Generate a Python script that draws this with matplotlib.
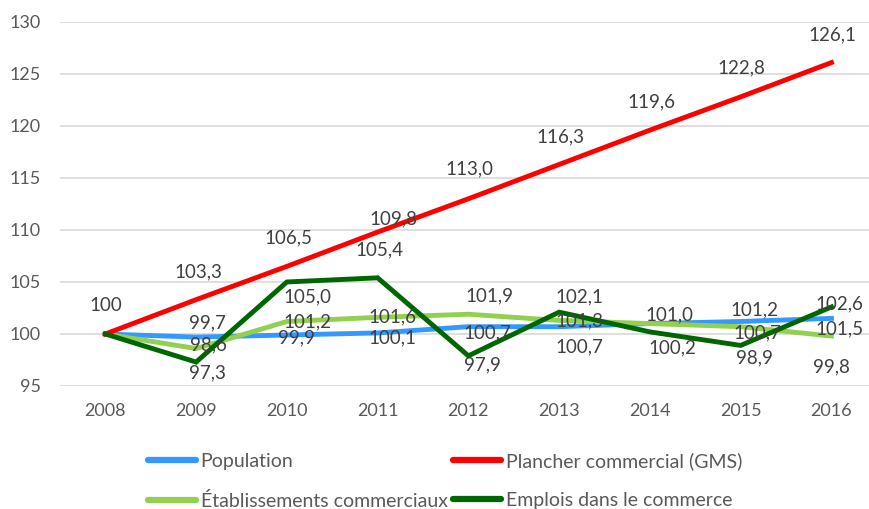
import matplotlib.pyplot as plt
import numpy as np

years = ["2008", "2009", "2010", "2011", "2012", "2013", "2014", "2015", "2016"]
population = [100, 99.7, 99.9, 100.1, 100.7, 100.7, 101.0, 101.2, 101.5]
plancher = [100, 103.3, 106.5, 109.8, 113.0, 116.3, 119.6, 122.8, 126.1]
etablissements = [100, 98.6, 101.2, 101.6, 101.9, 101.3, 101.0, 100.7, 99.8]
emplois = [100, 97.3, 105.0, 105.4, 97.9, 102.1, 100.2, 98.9, 102.6]

# label offsets in pixels (dx, dy up), None = no label
pop_off = [None, (11, 14), (10, -3), (15, -5), (19, -6), (20, -20), (20, 9), (14, 12), (8, -10)]
pl_off = [(0, 28), (2, 28), (2, 29), (16, 13), (1, 30), (1, 28), (2, 28), (1, 29), (1, 28)]
et_off = [None, (12, 4), (21, 0), (15, 0), (21, 18), (20, 0), None, (17, -6), (0, -31)]
em_off = [None, (11, -11), (21, -15), (2, 28), (14, -9), (20, 15), (22, -16), (14, -12), (8, 3)]

series = [
    ("Population", population, "#3399ff", pop_off),
    ("Établissements commerciaux", etablissements, "#92d050", et_off),
    ("Plancher commercial (GMS)", plancher, "#ff0000", pl_off),
    ("Emplois dans le commerce", emplois, "#006600", em_off),
]

plt.rcParams['font.family'] = ['Lato', 'DejaVu Sans']
txt_color = "#595959"

fig = plt.figure(figsize=(8.69, 5.09), dpi=100)
ax = fig.add_axes([0.069, 0.2417, 0.940, 0.7151])

x = np.arange(len(years))
for name, vals, col, offs in series:
    ax.plot(x, vals, color=col, linewidth=3.5, label=name, zorder=3,
            solid_joinstyle='miter')

for name, vals, col, offs in series:
    for i, v in enumerate(vals):
        if offs[i] is None:
            continue
        lbl = ("%.1f" % v).replace(".", ",") if i > 0 else "100"
        ax.annotate(lbl, (x[i], v), xytext=offs[i], textcoords='offset pixels',
                    ha='center', va='center', fontsize=13.5, color="#404040", zorder=4)

ax.set_xlim(-0.5, 8.5)
ax.set_ylim(95, 130)
ax.set_yticks(np.arange(95, 131, 5))
ax.set_xticks(x)
ax.set_xticklabels(years)
ax.tick_params(axis='both', length=0, labelsize=13, colors=txt_color)
ax.tick_params(axis='y', pad=14)
ax.tick_params(axis='x', pad=12)
ax.yaxis.grid(True, color='#d9d9d9', linewidth=1.2, zorder=0)
for s in ax.spines.values():
    s.set_visible(False)

handles, labels = ax.get_legend_handles_labels()
leg = fig.legend(handles, labels, ncol=2, loc='center', bbox_to_anchor=(0.512, 0.055),
                 frameon=False, fontsize=14, handlelength=2.47, handletextpad=0.26,
                 columnspacing=0.26, labelspacing=1.1, labelcolor=txt_color)
for h in leg.legend_handles:
    h.set_linewidth(4.5)
    h.set_solid_capstyle('round')

plt.savefig("out.png", dpi=100)
plt.close(fig)
